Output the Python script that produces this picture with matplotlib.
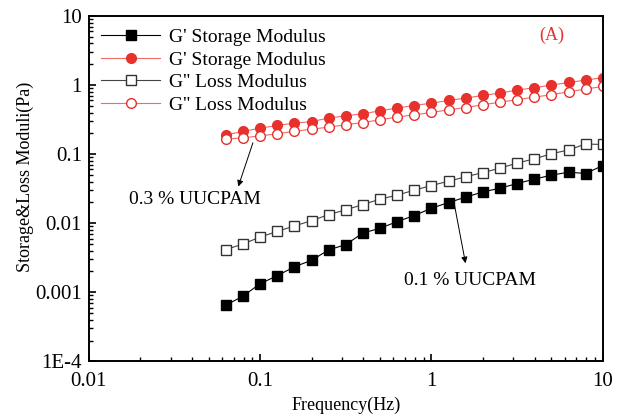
import matplotlib
matplotlib.use("Agg")
import matplotlib.pyplot as plt
from matplotlib.ticker import LogLocator, FixedLocator, FixedFormatter, NullFormatter

plt.rcParams['font.family'] = ['Liberation Serif', 'DejaVu Serif']

freq = [0.0631, 0.0794, 0.1, 0.126, 0.158, 0.2, 0.251, 0.316, 0.398, 0.501, 0.631, 0.794,
        1, 1.26, 1.58, 2, 2.51, 3.16, 3.98, 5.01, 6.31, 7.94, 10]

# 0.1 % UUCPAM
g1_storage = [0.00065, 0.00088, 0.00133, 0.00174, 0.00233, 0.00291, 0.0041, 0.0049, 0.0072,
              0.00845, 0.01055, 0.0129, 0.0165, 0.0199, 0.0238, 0.0284, 0.0321, 0.0375,
              0.0434, 0.0496, 0.0548, 0.0524, 0.0684]
g1_loss = [0.00415, 0.0050, 0.0063, 0.0076, 0.0091, 0.0109, 0.0133, 0.0156, 0.0186, 0.0223,
           0.0255, 0.0301, 0.0351, 0.0406, 0.0469, 0.0541, 0.0626, 0.0741, 0.0855, 0.101,
           0.115, 0.140, 0.138]

# 0.3 % UUCPAM
g3_storage = [0.190, 0.213, 0.238, 0.260, 0.281, 0.296, 0.333, 0.359, 0.384, 0.424, 0.465,
              0.506, 0.548, 0.598, 0.648, 0.707, 0.766, 0.847, 0.914, 1.0, 1.09, 1.18, 1.28]
g3_loss = [0.165, 0.172, 0.184, 0.197, 0.214, 0.230, 0.246, 0.266, 0.287, 0.314, 0.344, 0.371,
           0.401, 0.439, 0.473, 0.518, 0.567, 0.612, 0.670, 0.723, 0.800, 0.875, 0.955]

red = '#e8302c'

fig = plt.figure(figsize=(6.17, 4.16), dpi=100)
ax = fig.add_axes([0.144, 0.1315, 0.833, 0.83])

ax.plot(freq, g1_storage, color='black', lw=0.8, marker='s', ms=6.5, mfc='black', mec='black',
        label="G' Storage Modulus")
ax.plot(freq, g3_storage, color='#f06a66', lw=0.8, marker='o', ms=7, mfc=red, mec=red,
        label="G' Storage Modulus")
ax.plot(freq, g1_loss, color='#444444', lw=0.8, marker='s', ms=6.5, mfc='white', mec='#333333',
        mew=1.0, label="G'' Loss Modulus")
ax.plot(freq, g3_loss, color='#f06a66', lw=0.8, marker='o', ms=7, mfc='white', mec=red,
        mew=1.0, label="G'' Loss Modulus")

ax.set_xscale('log')
ax.set_yscale('log')
ax.set_xlim(0.01, 10)
ax.set_ylim(1e-4, 10)

ax.xaxis.set_major_locator(FixedLocator([0.01, 0.1, 1, 10]))
ax.xaxis.set_major_formatter(FixedFormatter(['0.01', '0.1', '1', '10']))
ax.yaxis.set_major_locator(FixedLocator([1e-4, 1e-3, 1e-2, 0.1, 1, 10]))
ax.yaxis.set_major_formatter(FixedFormatter(['1E-4', '0.001', '0.01', '0.1', '1', '10']))
ax.xaxis.set_minor_locator(LogLocator(base=10, subs=range(2, 10), numticks=20))
ax.yaxis.set_minor_locator(LogLocator(base=10, subs=range(2, 10), numticks=20))
ax.xaxis.set_minor_formatter(NullFormatter())
ax.yaxis.set_minor_formatter(NullFormatter())

ax.tick_params(which='major', direction='in', length=5, width=1.2, labelsize=15)
ax.tick_params(which='minor', direction='in', length=3, width=1.0)
ax.tick_params(axis='x', which='major', pad=8)
ax.tick_params(axis='y', which='major', pad=5)
for s in ax.spines.values():
    s.set_linewidth(1.4)

ax.set_xlabel('Frequency(Hz)', fontsize=13, labelpad=4)
ax.set_ylabel('Storage&Loss Moduli(Pa)', fontsize=13)
ax.yaxis.set_label_coords(-0.107, 0.535)

ax.legend(loc='upper left', frameon=False, fontsize=14, handlelength=3.0,
          handletextpad=0.45, labelspacing=0.25, borderaxespad=0.25)

ax.text(0.90, 0.945, '(A)', transform=ax.transAxes, color=red, fontsize=13,
        ha='center', va='center')

ax.annotate('', xy=(0.0745, 0.0339), xytext=(0.0907, 0.146),
            arrowprops=dict(arrowstyle='-|>', color='black', lw=0.7, mutation_scale=9,
                            shrinkA=0, shrinkB=0))
ax.text(0.0416, 0.0218, '0.3 % UUCPAM', fontsize=14, ha='center', va='center')

ax.annotate('', xy=(1.58, 0.00263), xytext=(1.35, 0.0206),
            arrowprops=dict(arrowstyle='-|>', color='black', lw=0.7, mutation_scale=9,
                            shrinkA=0, shrinkB=0))
ax.text(1.67, 0.0015, '0.1 % UUCPAM', fontsize=14, ha='center', va='center')

fig.savefig('out.png', dpi=100)
